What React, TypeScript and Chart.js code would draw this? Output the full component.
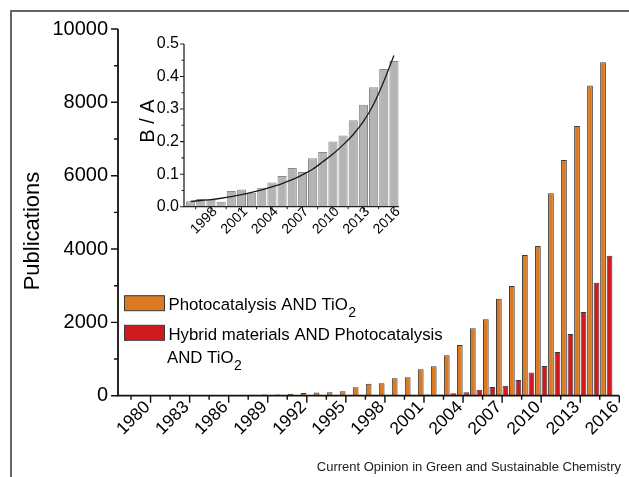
import React, { useEffect, useRef } from 'react';
import { Chart, registerables } from 'chart.js';

Chart.register(...registerables);

const FONT = '"Liberation Sans", Arial, Helvetica, sans-serif';

// ---------- main chart data ----------
const years = [
  1980, 1981, 1982, 1983, 1984, 1985, 1986, 1987, 1988, 1989,
  1990, 1991, 1992, 1993, 1994, 1995, 1996, 1997, 1998, 1999,
  2000, 2001, 2002, 2003, 2004, 2005, 2006, 2007, 2008, 2009,
  2010, 2011, 2012, 2013, 2014, 2015,
];
const photocatalysisTiO2 = [
  3, 4, 5, 6, 8, 10, 15, 22, 26, 32,
  36, 50, 72, 85, 95, 120, 229, 327, 338, 475,
  502, 720, 802, 1102, 1383, 1838, 2084, 2646, 2993, 3838,
  4084, 5522, 6430, 7358, 8457, 9095,
];
const hybridPhotocatalysisTiO2 = [
  0, 0, 0, 0, 0, 0, 0, 0, 0, 0,
  0, 0, 0, 0, 0, 0, 4, 8, 7, 7,
  22, 32, 36, 64, 95, 160, 240, 273, 430, 630,
  810, 1192, 1683, 2283, 3083, 3819,
];
const seriesLabels = ['Photocatalysis AND TiO2', 'Hybrid materials AND Photocatalysis AND TiO2'];
const legendLines = [
  ['Photocatalysis AND TiO2'],
  ['Hybrid materials AND Photocatalysis', 'AND TiO2'],
];

// ---------- inset data ----------
const ratioYears = [
  1996, 1997, 1998, 1999, 2000, 2001, 2002, 2003, 2004, 2005,
  2006, 2007, 2008, 2009, 2010, 2011, 2012, 2013, 2014, 2015, 2016,
];
const ratioBA = [
  0.017, 0.024, 0.021, 0.015, 0.048, 0.053, 0.043, 0.058, 0.074, 0.094,
  0.119, 0.107, 0.149, 0.168, 0.2, 0.219, 0.266, 0.313, 0.367, 0.423, 0.448,
];
const ratioFit = [
  0.016, 0.019, 0.022, 0.026, 0.031, 0.037, 0.044, 0.052, 0.061, 0.071,
  0.083, 0.098, 0.115, 0.138, 0.162, 0.19, 0.222, 0.262, 0.315, 0.385, 0.465,
];

// ---------- ticks ----------
const mainXMajorTicks = [1980, 1983, 1986, 1989, 1992, 1995, 1998, 2001, 2004, 2007, 2010, 2013, 2016];
const mainXMinorTicks = [1978.5, 1981.5, 1984.5, 1987.5, 1990.5, 1993.5, 1996.5, 1999.5, 2002.5, 2005.5, 2008.5, 2011.5, 2014.5];
const mainYMajorTicks = [0, 2000, 4000, 6000, 8000, 10000];
const mainYMinorTicks = [1000, 3000, 5000, 7000, 9000];
const insetXMajorTicks = [1998, 2001, 2004, 2007, 2010, 2013, 2016];
const insetXMinorTicks = [1996.5, 1999.5, 2002.5, 2005.5, 2008.5, 2011.5, 2014.5];
const insetYMajorTicks = [0, 0.1, 0.2, 0.3, 0.4, 0.5];
const insetYMinorTicks = [0.05, 0.15, 0.25, 0.35, 0.45];

const ORANGE = '#dc7a22';
const RED = '#cf1b20';
const BAR_BORDER = '#3a3a3a';
const GRAY = '#b4b4b4';

function drawRich(ctx: CanvasRenderingContext2D, text: string, x: number, y: number, size: number) {
  const parts = text.split(/(TiO2)/);
  let cx = x;
  ctx.textAlign = 'left';
  ctx.textBaseline = 'alphabetic';
  for (const p of parts) {
    if (!p) continue;
    if (p === 'TiO2') {
      ctx.font = `${size}px ${FONT}`;
      ctx.fillText('TiO', cx, y);
      cx += ctx.measureText('TiO').width;
      ctx.font = `${Math.round(size * 0.85)}px ${FONT}`;
      ctx.fillText('2', cx + 0.5, y + 7);
      cx += ctx.measureText('2').width + 0.5;
    } else {
      ctx.font = `${size}px ${FONT}`;
      ctx.fillText(p, cx, y);
      cx += ctx.measureText(p).width;
    }
  }
}

type AxisCfg = {
  color: string; width: number; major: number; minor: number;
  xMajor: number[]; xMinor: number[]; yMajor: number[]; yMinor: number[];
  title: string; titleSize: number; titleX: number; titleY: number;
};

function makeAxisPlugin(id: string, cfg: AxisCfg) {
  return {
    id,
    afterDatasetsDraw(chart: any) {
      const { ctx, chartArea: a } = chart;
      const xs = chart.scales.x;
      const ys = chart.scales.y;
      ctx.save();
      ctx.strokeStyle = cfg.color;
      ctx.lineWidth = cfg.width;
      ctx.beginPath();
      ctx.moveTo(a.left, a.top);
      ctx.lineTo(a.left, a.bottom);
      ctx.lineTo(a.right, a.bottom);
      ctx.stroke();
      ctx.lineWidth = cfg.width * 0.8;
      ctx.beginPath();
      cfg.xMajor.forEach((v) => { const p = xs.getPixelForValue(v); ctx.moveTo(p, a.bottom); ctx.lineTo(p, a.bottom + cfg.major); });
      cfg.xMinor.forEach((v) => { const p = xs.getPixelForValue(v); ctx.moveTo(p, a.bottom); ctx.lineTo(p, a.bottom + cfg.minor); });
      cfg.yMajor.forEach((v) => { const p = ys.getPixelForValue(v); ctx.moveTo(a.left, p); ctx.lineTo(a.left - cfg.major, p); });
      cfg.yMinor.forEach((v) => { const p = ys.getPixelForValue(v); ctx.moveTo(a.left, p); ctx.lineTo(a.left - cfg.minor, p); });
      ctx.stroke();
      // axis title
      ctx.translate(cfg.titleX, cfg.titleY);
      ctx.rotate(-Math.PI / 2);
      ctx.fillStyle = '#000';
      ctx.font = `${cfg.titleSize}px ${FONT}`;
      ctx.textAlign = 'center';
      ctx.textBaseline = 'middle';
      ctx.fillText(cfg.title, 0, 0);
      ctx.restore();
    },
  };
}

const decorPlugin = {
  id: 'decor',
  afterDraw(chart: any) {
    const { ctx } = chart;
    ctx.save();
    // frame
    ctx.strokeStyle = '#666';
    ctx.lineWidth = 2;
    ctx.beginPath();
    ctx.moveTo(11, 477);
    ctx.lineTo(11, 11);
    ctx.lineTo(629, 11);
    ctx.stroke();
    // legend
    const colors = [ORANGE, RED];
    const boxY = [295.7, 325.3];
    const baselines = [[310], [340, 362.7]];
    ctx.lineWidth = 1;
    ctx.strokeStyle = BAR_BORDER;
    for (let i = 0; i < legendLines.length; i++) {
      ctx.fillStyle = colors[i];
      ctx.fillRect(124.5, boxY[i], 40, 15);
      ctx.strokeRect(124.5, boxY[i], 40, 15);
      ctx.fillStyle = '#000';
      legendLines[i].forEach((line, j) => drawRich(ctx, line, j === 0 ? 168.5 : 167, baselines[i][j], 16.8));
    }
    // source
    ctx.fillStyle = '#222';
    ctx.font = `13px ${FONT}`;
    ctx.textAlign = 'right';
    ctx.textBaseline = 'alphabetic';
    ctx.fillText('Current Opinion in Green and Sustainable Chemistry', 621, 471);
    ctx.restore();
  },
};

export default function App() {
  const mainRef = useRef<HTMLCanvasElement>(null);
  const insetRef = useRef<HTMLCanvasElement>(null);

  useEffect(() => {
    Chart.defaults.font.family = FONT;
    Chart.defaults.color = '#000';

    const main = new Chart(mainRef.current as HTMLCanvasElement, {
      type: 'bar',
      data: {
        datasets: [
          {
            label: seriesLabels[0],
            data: years.map((y, i) => ({ x: y, y: photocatalysisTiO2[i] })),
            backgroundColor: ORANGE,
            borderColor: BAR_BORDER,
            borderWidth: 1,
          },
          {
            label: seriesLabels[1],
            data: years.map((y, i) => ({ x: y, y: hybridPhotocatalysisTiO2[i] })),
            backgroundColor: RED,
            borderColor: BAR_BORDER,
            borderWidth: 1,
          },
        ],
      } as any,
      options: {
        animation: false,
        responsive: false,
        maintainAspectRatio: false,
        layout: { padding: { left: 20, top: 29, right: 9.7, bottom: 0 } },
        datasets: { bar: { categoryPercentage: 1, barPercentage: 0.88 } },
        plugins: { legend: { display: false }, tooltip: { enabled: false } },
        scales: {
          x: {
            type: 'linear',
            offset: false,
            min: 1977.5,
            max: 2016,
            grid: { display: false, drawTicks: false },
            border: { display: false },
            afterBuildTicks: (s: any) => { s.ticks = mainXMajorTicks.map((v) => ({ value: v })); },
            afterFit: (s: any) => { s.height = 477 - 395.7; s.paddingLeft = 0; s.paddingRight = 0; },
            ticks: {
              autoSkip: false,
              minRotation: 45,
              maxRotation: 45,
              padding: 1.4,
              labelOffset: -3.2,
              font: { size: 17.5, lineHeight: 1.2 },
              color: '#000',
              callback: (v: any) => String(v),
            },
          },
          y: {
            min: 0,
            max: 10000,
            grid: { display: false, drawTicks: false },
            border: { display: false },
            afterBuildTicks: (s: any) => { s.ticks = mainYMajorTicks.map((v) => ({ value: v })); },
            afterFit: (s: any) => { s.width = 98; },
            ticks: {
              padding: 10,
              font: { size: 20 },
              color: '#000',
              callback: (v: any) => String(v),
            },
          },
        },
      } as any,
      plugins: [
        makeAxisPlugin('mainAxes', {
          color: '#111', width: 1.8, major: 7, minor: 4,
          xMajor: mainXMajorTicks, xMinor: mainXMinorTicks,
          yMajor: mainYMajorTicks, yMinor: mainYMinorTicks,
          title: 'Publications', titleSize: 22, titleX: 33, titleY: 231,
        }),
        decorPlugin,
      ],
    });

    const inset = new Chart(insetRef.current as HTMLCanvasElement, {
      type: 'bar',
      data: {
        datasets: [
          {
            type: 'line',
            label: 'fit',
            data: ratioYears.map((y, i) => ({ x: y, y: ratioFit[i] })),
            borderColor: '#1a1a1a',
            borderWidth: 1.3,
            pointRadius: 0,
            fill: false,
            cubicInterpolationMode: 'monotone',
            order: 0,
          },
          {
            type: 'bar',
            label: 'B / A',
            data: ratioYears.map((y, i) => ({ x: y, y: ratioBA[i] })),
            backgroundColor: GRAY,
            borderColor: '#8a8a8a',
            borderWidth: 1,
            borderSkipped: 'start',
            order: 1,
          },
        ],
      } as any,
      options: {
        animation: false,
        responsive: false,
        maintainAspectRatio: false,
        layout: { padding: { left: 130, top: 44, right: 230, bottom: 0 } },
        datasets: { bar: { categoryPercentage: 1, barPercentage: 0.9 } },
        plugins: { legend: { display: false }, tooltip: { enabled: false } },
        scales: {
          x: {
            type: 'linear',
            offset: false,
            min: 1995.35,
            max: 2016.5,
            grid: { display: false, drawTicks: false },
            border: { display: false },
            afterBuildTicks: (s: any) => { s.ticks = insetXMajorTicks.map((v) => ({ value: v })); },
            afterFit: (s: any) => { s.height = 477 - 206.7; s.paddingLeft = 0; s.paddingRight = 0; },
            ticks: {
              autoSkip: false,
              minRotation: 45,
              maxRotation: 45,
              padding: -3,
              labelOffset: 4,
              font: { size: 14, lineHeight: 1.2 },
              color: '#000',
              callback: (v: any) => String(v),
            },
          },
          y: {
            min: 0,
            max: 0.5,
            grid: { display: false, drawTicks: false },
            border: { display: false },
            afterBuildTicks: (s: any) => { s.ticks = insetYMajorTicks.map((v) => ({ value: v })); },
            afterFit: (s: any) => { s.width = 54; },
            ticks: {
              padding: 5,
              font: { size: 16 },
              color: '#000',
              callback: (v: any) => Number(v).toFixed(1),
            },
          },
        },
      } as any,
      plugins: [
        makeAxisPlugin('insetAxes', {
          color: '#222', width: 1.3, major: 4, minor: 2.5,
          xMajor: insetXMajorTicks, xMinor: insetXMinorTicks,
          yMajor: insetYMajorTicks, yMinor: insetYMinorTicks,
          title: 'B / A', titleSize: 20, titleX: 148, titleY: 121,
        }),
      ],
    });

    return () => {
      main.destroy();
      inset.destroy();
    };
  }, []);

  const cs: React.CSSProperties = { position: 'absolute', left: 0, top: 0, width: 629, height: 477 };
  return (
    <div style={{ position: 'fixed', left: 0, top: 0, width: 629, height: 477, background: '#fff' }}>
      <canvas ref={mainRef} width={629} height={477} style={cs} />
      <canvas ref={insetRef} width={629} height={477} style={{ ...cs, pointerEvents: 'none' }} />
    </div>
  );
}
